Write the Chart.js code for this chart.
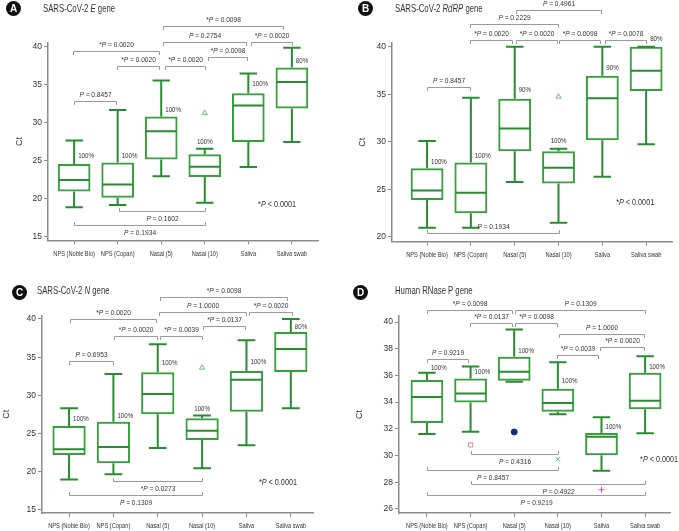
<!DOCTYPE html>
<html>
<head>
<meta charset="utf-8">
<script src="https://cdn.jsdelivr.net/npm/chart.js@4.4.1/dist/chart.umd.min.js"></script>
<style>
  body { margin: 0; background: #fff; }
  #page { position: relative; width: 679px; height: 531px; overflow: hidden; }
  .panel { position: absolute; }
  .badge { position: absolute; width: 15px; height: 15px; border-radius: 50%; background: #111; color: #fff;
           font: bold 10px "Liberation Sans", Arial, sans-serif; text-align: center; line-height: 15px; }
  .title { position: absolute; font-family: "Liberation Sans", Arial, sans-serif; font-size: 10.5px; color: #333;
           white-space: nowrap; line-height: 12px; transform: scaleX(0.74); transform-origin: 0 0; }
</style>
</head>
<body>
<div id="page">
  <canvas class="panel" id="cA" width="340" height="265" style="left:0;top:0"></canvas>
  <canvas class="panel" id="cB" width="339" height="265" style="left:340px;top:0"></canvas>
  <canvas class="panel" id="cC" width="340" height="266" style="left:0;top:265px"></canvas>
  <canvas class="panel" id="cD" width="339" height="266" style="left:340px;top:265px"></canvas>

  <div class="badge" style="left:6px;top:1px">A</div>
  <div class="title" style="left:43px;top:2px">SARS-CoV-2 <i>E</i> gene</div>
  <div class="badge" style="left:358px;top:1px">B</div>
  <div class="title" style="left:395px;top:2px">SARS-CoV-2 <i>RdRP</i> gene</div>
  <div class="badge" style="left:12px;top:285px">C</div>
  <div class="title" style="left:37px;top:284px">SARS-CoV-2 <i>N</i> gene</div>
  <div class="badge" style="left:353px;top:285px">D</div>
  <div class="title" style="left:395px;top:284px">Human RNase P gene</div>
</div>

<script>
const categories = ['NPS (Nobie Bio)', 'NPS (Copan)', 'Nasal (5)', 'Nasal (10)', 'Saliva', 'Saliva swab'];

// A - E gene
const eTicks = [15, 20, 25, 30, 35, 40];
const eMin = [18.9, 19.2, 23.0, 19.5, 24.2, 27.5];
const eQ1  = [21.0, 20.15, 25.2, 22.9, 27.5, 31.9];
const eMed = [22.5, 21.9, 28.9, 24.25, 32.3, 35.4];
const eQ3  = [24.6, 24.8, 30.85, 25.9, 33.9, 37.3];
const eMax = [27.7, 31.7, 35.6, 26.6, 36.5, 39.9];
const ePct = ['100%', '100%', '100%', '100%', '100%', '80%'];
const ePctAt = [25.7, 25.7, 31.7, 27.5, 35.1, 38.2];
const eOutCat = [3];
const eOutVal = [31.3];
const eBrackets = [
  [2.03, 4.79, 42.7, '*P = 0.0098', 'down'],
  [2.03, 3.94, 40.65, 'P = 0.2754', 'down'],
  [4.05, 5.0, 40.65, '*P = 0.0020', 'down'],
  [-0.03, 1.94, 39.43, '*P = 0.0020', 'down'],
  [3.08, 3.96, 38.68, '*P = 0.0098', 'down'],
  [0.99, 1.96, 37.45, '*P = 0.0020', 'down'],
  [2.09, 3.0, 37.45, '*P = 0.0020', 'down'],
  [0, 0.96, 32.83, 'P = 0.8457', 'down'],
  [1.02, 3.0, 18.43, 'P = 0.1602', 'up'],
  [0, 3.0, 16.63, 'P = 0.1934', 'up']
];

// B - RdRP gene
const bTicks = [20, 25, 30, 35, 40];
const bMin = [20.95, 20.95, 25.75, 21.47, 26.3, 29.72];
const bQ1  = [23.86, 22.46, 29.0, 25.6, 30.14, 35.33];
const bMed = [24.85, 24.63, 31.4, 27.26, 34.56, 37.47];
const bQ3  = [27.2, 27.8, 34.53, 29.0, 36.95, 40.0];
const bMax = [30.07, 34.63, 40.0, 29.26, 40.0, 40.0];
const bPct = ['100%', '100%', '90%', '100%', '90%', '80%'];
const bPctAt = [27.82, 28.49, 35.44, 30.1, 37.72, 40.77];
const bOutCat = [3];
const bOutVal = [34.74];
const bBrackets = [
  [2.02, 3.97, 43.86, 'P = 0.4961', 'down'],
  [0.98, 2.98, 42.36, 'P = 0.2229', 'down'],
  [0.98, 1.93, 40.7, '*P = 0.0020', 'down'],
  [2.02, 2.96, 40.7, '*P = 0.0020', 'down'],
  [3.0, 3.95, 40.7, '*P = 0.0098', 'down'],
  [4.05, 5.0, 40.7, '*P = 0.0078', 'down'],
  [0, 0.97, 35.72, 'P = 0.8457', 'down'],
  [0, 3.0, 20.36, 'P = 0.1934', 'upA']
];

// C - N gene
const cTicks = [15, 20, 25, 30, 35, 40];
const cMin = [19.0, 19.67, 23.1, 20.45, 23.46, 28.3];
const cQ1  = [22.2, 21.1, 27.52, 24.16, 27.87, 33.06];
const cMed = [22.94, 23.25, 30.18, 25.38, 32.06, 36.07];
const cQ3  = [26.0, 26.56, 33.02, 27.0, 33.2, 38.3];
const cMax = [28.3, 32.8, 36.68, 27.35, 37.2, 40.0];
const cPct = ['100%', '100%', '100%', '100%', '100%', '80%'];
const cPctAt = [26.91, 27.3, 34.2, 28.22, 34.33, 39.0];
const cOutCat = [3];
const cOutVal = [33.63];
const cBrackets = [
  [2.05, 4.92, 42.92, '*P = 0.0098', 'down'],
  [2.03, 4.0, 40.96, 'P = 1.0000', 'down'],
  [4.06, 5.02, 40.96, '*P = 0.0020', 'down'],
  [0.02, 1.97, 40.0, '*P = 0.0020', 'down'],
  [3.01, 3.96, 39.08, '*P = 0.0137', 'down'],
  [1.01, 1.99, 37.77, '*P = 0.0020', 'down'],
  [2.05, 3.0, 37.77, '*P = 0.0039', 'down'],
  [0, 0.98, 34.55, 'P = 0.6953', 'down'],
  [1.0, 3.0, 18.8, '*P = 0.0273', 'up'],
  [0, 3.0, 16.96, 'P = 0.1309', 'up']
];

// D - RNase P gene
const dTicks = [26, 28, 30, 32, 34, 36, 38, 40];
const dMin = [31.62, 31.79, 35.52, 33.09, 28.86, 31.67];
const dQ1  = [32.44, 33.98, 35.6, 33.29, 30.03, 33.46];
const dMed = [34.38, 34.65, 36.27, 33.93, 31.4, 34.11];
const dQ3  = [35.65, 35.77, 37.39, 35.0, 31.69, 36.2];
const dMax = [36.2, 36.67, 39.43, 36.99, 32.86, 37.44];
const dPct = ['100%', '100%', '100%', '100%', '100%', '100%'];
const dPctAt = [36.59, 36.27, 37.84, 35.57, 32.12, 36.64];
const dOutCat = [1, 2, 3, 4];
const dOutVal = [30.8, 31.77, 29.73, 27.44];
const dBrackets = [
  [0, 1.96, 40.92, '*P = 0.0098', 'down'],
  [2.02, 5.0, 40.92, 'P = 0.1309', 'down'],
  [0.99, 1.96, 39.95, '*P = 0.0137', 'down'],
  [2.02, 2.99, 39.95, '*P = 0.0098', 'down'],
  [3.03, 4.98, 39.13, 'P = 1.0000', 'down'],
  [3.97, 4.98, 38.13, '*P = 0.0020', 'down'],
  [2.99, 3.93, 37.56, '*P = 0.0039', 'down'],
  [0, 0.95, 37.26, 'P = 0.9219', 'down'],
  [1.0, 3.0, 30.1, 'P = 0.4316', 'up'],
  [0, 3.0, 28.93, 'P = 0.8457', 'up'],
  [1.0, 5.0, 27.89, 'P = 0.4922', 'up'],
  [0, 5.0, 27.07, 'P = 0.9219', 'up']
];

const FONT = '"Liberation Sans", Arial, sans-serif';
const BOX = '#36a03c';
const WHISKER = '#2a8c30';
const AXIS = '#8c8c8c';
const BRACKET = '#9a9a9a';
const TEXT = '#333';

const tri = { style: 'triangle', bg: 'rgba(0,0,0,0)', border: '#6cc06c' };

const panels = [
  { id: 'cA', w: 340, h: 265, l: 48, r: 318, t: 42.4, b: 240.4, xMin: -0.6, xMax: 5.6, yMin: 14.55, yMax: 40.6, ctPad: 14,
    ticks: eTicks, min: eMin, q1: eQ1, med: eMed, q3: eQ3, max: eMax, pct: ePct, pctAt: ePctAt,
    outCat: eOutCat, outVal: eOutVal, outStyle: [tri], brackets: eBrackets, note: [4.66, 19.3], centerPct: [3] },
  { id: 'cB', w: 339, h: 265, l: 52, r: 332, t: 42.7, b: 241.7, xMin: -0.8, xMax: 5.59, yMin: 19.47, yMax: 40.42, ctPad: 17,
    ticks: bTicks, min: bMin, q1: bQ1, med: bMed, q3: bQ3, max: bMax, pct: bPct, pctAt: bPctAt,
    outCat: bOutCat, outVal: bOutVal, outStyle: [tri], brackets: bBrackets, note: [4.75, 23.58], centerPct: [3] },
  { id: 'cC', w: 340, h: 266, l: 42, r: 313, t: 50.7, b: 248, xMin: -0.61, xMax: 5.5, yMin: 14.6, yMax: 40.43, ctPad: 1,
    ticks: cTicks, min: cMin, q1: cQ1, med: cMed, q3: cQ3, max: cMax, pct: cPct, pctAt: cPctAt,
    outCat: cOutCat, outVal: cOutVal, outStyle: [tri], brackets: cBrackets, note: [4.71, 18.62], centerPct: [3] },
  { id: 'cD', w: 339, h: 266, l: 59, r: 330, t: 51, b: 248, xMin: -0.64, xMax: 5.57, yMin: 25.7, yMax: 40.45, ctPad: 14,
    ticks: dTicks, min: dMin, q1: dQ1, med: dMed, q3: dQ3, max: dMax, pct: dPct, pctAt: dPctAt,
    outCat: dOutCat, outVal: dOutVal,
    outStyle: [
      { style: 'rect', bg: 'rgba(0,0,0,0)', border: '#d98a9c' },
      { style: 'circle', bg: '#1c2a80', border: '#1c2a80' },
      { style: 'crossRot', bg: '#5cb85c', border: '#5cb85c' },
      { style: 'cross', bg: '#e04ce0', border: '#e04ce0' }
    ],
    brackets: dBrackets, note: [5.32, 29.68], centerPct: [] }
];

// condensed canvas text; italicP sets the statistic P in italics
function drawText(ctx, str, x, y, size, align, k, italicP) {
  const i = italicP ? str.indexOf('P') : -1;
  const segs = i < 0 ? [[str, '']] : [[str.slice(0, i), ''], ['P', 'italic '], [str.slice(i + 1), '']];
  let w = 0;
  segs.forEach(s => {
    ctx.font = `${s[1]}${size}px ${FONT}`;
    s[2] = ctx.measureText(s[0]).width;
    w += s[2];
  });
  const sx = align === 'center' ? x - w * k / 2 : x;
  ctx.save();
  ctx.translate(sx, y);
  ctx.scale(k, 1);
  ctx.textAlign = 'left';
  ctx.textBaseline = 'middle';
  let cx = 0;
  segs.forEach(s => {
    ctx.font = `${s[1]}${size}px ${FONT}`;
    ctx.fillText(s[0], cx, 0);
    cx += s[2];
  });
  ctx.restore();
}

function overlay(p) {
  return {
    id: 'overlay',
    afterDatasetsDraw(chart) {
      const { ctx, scales: { x, y }, chartArea } = chart;
      const bars = chart.getDatasetMeta(0).data;
      ctx.save();

      // whiskers and medians
      ctx.strokeStyle = WHISKER;
      ctx.lineWidth = 2;
      categories.forEach((c, i) => {
        const cx = x.getPixelForValue(i);
        const half = bars[i].width / 2;
        const cap = x.getPixelForValue(i + 0.2) - cx;
        const lo = y.getPixelForValue(p.min[i]);
        const q1 = y.getPixelForValue(p.q1[i]);
        const med = y.getPixelForValue(p.med[i]);
        const q3 = y.getPixelForValue(p.q3[i]);
        const hi = y.getPixelForValue(p.max[i]);
        ctx.beginPath();
        ctx.moveTo(cx, q3); ctx.lineTo(cx, hi);
        ctx.moveTo(cx - cap, hi); ctx.lineTo(cx + cap, hi);
        ctx.moveTo(cx, q1); ctx.lineTo(cx, lo);
        ctx.moveTo(cx - cap, lo); ctx.lineTo(cx + cap, lo);
        ctx.moveTo(cx - half + 1, med); ctx.lineTo(cx + half - 1, med);
        ctx.stroke();
      });

      // category names under the axis
      ctx.fillStyle = TEXT;
      categories.forEach((c, i) => {
        drawText(ctx, c, x.getPixelForValue(i), chartArea.bottom + 13, 8, 'center', 0.71, false);
      });

      // detection rates
      p.pct.forEach((t, i) => {
        const cx = x.getPixelForValue(i);
        const centered = p.centerPct.includes(i);
        drawText(ctx, t, centered ? cx : cx + 4, y.getPixelForValue(p.pctAt[i]), 7.5, centered ? 'center' : 'left', 0.82, false);
      });

      // comparison brackets
      ctx.strokeStyle = BRACKET;
      ctx.lineWidth = 1;
      p.brackets.forEach(([from, to, level, label, side]) => {
        const x1 = Math.round(x.getPixelForValue(from)) + 0.5;
        const x2 = Math.round(x.getPixelForValue(to)) + 0.5;
        const py = Math.round(y.getPixelForValue(level)) + 0.5;
        const tick = side === 'down' ? 3.5 : -3.5;
        ctx.beginPath();
        ctx.moveTo(x1, py + tick);
        ctx.lineTo(x1, py);
        ctx.lineTo(x2, py);
        ctx.lineTo(x2, py + tick);
        ctx.stroke();
        const ty = side === 'up' ? py + 7 : py - 6.5;
        drawText(ctx, label, (x1 + x2) / 2, ty, 7.5, 'center', 0.88, true);
      });

      drawText(ctx, '*P < 0.0001', x.getPixelForValue(p.note[0]), y.getPixelForValue(p.note[1]), 9.5, 'center', 0.76, true);
      ctx.restore();
    }
  };
}

function makeChart(p) {
  new Chart(document.getElementById(p.id), {
    type: 'bar',
    data: {
      datasets: [
        {
          type: 'bar',
          data: categories.map((c, i) => ({ x: i, y: [p.q1[i], p.q3[i]] })),
          backgroundColor: 'rgba(0,0,0,0)',
          borderColor: BOX,
          borderWidth: 2,
          borderSkipped: false,
          barPercentage: 0.75,
          categoryPercentage: 1
        },
        {
          type: 'scatter',
          data: p.outCat.map((c, k) => ({ x: c, y: p.outVal[k] })),
          pointStyle: p.outStyle.map(s => s.style),
          backgroundColor: p.outStyle.map(s => s.bg),
          borderColor: p.outStyle.map(s => s.border),
          borderWidth: 1,
          pointRadius: 3
        }
      ]
    },
    options: {
      responsive: false,
      animation: false,
      events: [],
      layout: { padding: { left: 0, top: p.t, right: p.w - p.r, bottom: 0 } },
      plugins: { legend: { display: false }, tooltip: { enabled: false } },
      scales: {
        x: {
          type: 'linear',
          min: p.xMin,
          max: p.xMax,
          offset: false,
          afterBuildTicks: s => { s.ticks = categories.map((c, i) => ({ value: i })); },
          afterFit: s => { s.height = p.h - p.b; },
          ticks: { display: false },
          grid: { offset: false, drawOnChartArea: false, tickLength: 4, color: AXIS },
          border: { color: AXIS, width: 1.5 }
        },
        y: {
          min: p.yMin,
          max: p.yMax,
          afterBuildTicks: s => { s.ticks = p.ticks.map(v => ({ value: v })); },
          afterFit: s => { s.width = p.l; },
          ticks: { color: TEXT, padding: 2, font: { family: FONT, size: 8.5 } },
          grid: { drawOnChartArea: false, tickLength: 4, color: AXIS },
          border: { color: AXIS, width: 1.5 },
          title: {
            display: true,
            text: 'Ct',
            color: TEXT,
            font: { family: FONT, size: 9 },
            padding: { top: p.ctPad, bottom: 0 }
          }
        }
      }
    },
    plugins: [overlay(p)]
  });
}

panels.forEach(makeChart);
</script>
</body>
</html>
